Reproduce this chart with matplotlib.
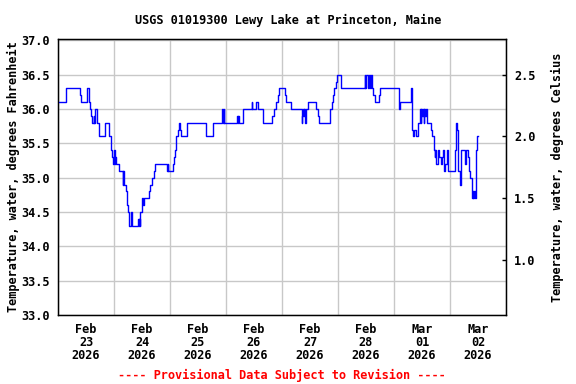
import numpy as np
import matplotlib
matplotlib.use("Agg")
import matplotlib.pyplot as plt

# hours since Feb 23 2026 00:00 where the reading changes, and the reading (deg F)
hours = [0, 3.5, 9.25, 9.75, 12.5, 13.25, 13.5, 14.25, 14.75, 15.25, 15.5, 15.75,
         16.0, 16.5, 17.5, 17.75, 20.25, 22.0, 22.5, 22.75, 23.25, 23.75, 24.0,
         24.25, 24.5, 24.75, 26.25, 27.75, 28.0, 28.25, 29.25, 29.5, 30.0, 30.5,
         31.25, 31.75, 34.25, 34.5, 34.75, 35.0, 35.25, 36.0, 36.5, 36.75, 39.0,
         39.5, 40.25, 41.0, 41.5, 46.75, 47.0, 47.25, 49.25, 49.75, 50.0, 50.5,
         50.75, 51.5, 51.75, 52.25, 52.5, 55.5, 63.25, 66.5, 70.5, 70.75, 71.0,
         71.25, 76.75, 77.0, 77.25, 77.5, 79.25, 83.0, 83.25, 85.0, 85.5, 88.0,
         91.75, 92.75, 93.25, 94.25, 94.75, 97.25, 97.75, 99.75, 104.5, 104.75,
         105.0, 105.25, 105.5, 105.75, 106.0, 106.25, 107.0, 110.75, 111.25,
         111.75, 116.75, 117.25, 117.75, 118.5, 119.0, 119.5, 121.5, 131.5,
         131.75, 132.0, 132.75, 133.25, 133.75, 134.25, 134.5, 135.0, 135.75,
         137.5, 138.0, 146.25, 146.75, 151.25, 151.75, 152.0, 152.75, 153.25,
         154.25, 155.25, 155.5, 155.75, 156.0, 156.5, 156.75, 157.0, 157.5,
         157.75, 158.25, 159.75, 160.5, 161.0, 161.25, 161.5, 161.75, 162.0,
         162.75, 163.0, 163.25, 164.25, 164.75, 165.0, 165.5, 165.75, 166.75,
         167.25, 170.25, 170.5, 171.0, 171.25, 172.5, 172.75, 174.5, 175.0,
         175.75, 176.0, 176.5, 177.25, 177.5, 177.75, 178.0, 178.25, 178.75,
         179.0, 179.25, 179.5, 179.75, 180.0]
temp_f = [36.1, 36.3, 36.2, 36.1, 36.3, 36.1, 36.0, 35.9, 35.8, 35.9, 35.8, 35.9,
          36.0, 35.8, 35.7, 35.6, 35.8, 35.6, 35.5, 35.4, 35.3, 35.2, 35.4,
          35.2, 35.3, 35.2, 35.1, 34.9, 35.1, 34.9, 34.8, 34.6, 34.5, 34.3,
          34.5, 34.3, 34.4, 34.3, 34.4, 34.3, 34.5, 34.7, 34.6, 34.7, 34.8,
          34.9, 35.0, 35.1, 35.2, 35.1, 35.2, 35.1, 35.2, 35.3, 35.4, 35.5,
          35.6, 35.7, 35.8, 35.7, 35.6, 35.8, 35.6, 35.8, 36.0, 35.8, 36.0,
          35.8, 35.9, 35.8, 35.9, 35.8, 36.0, 36.1, 36.0, 36.1, 36.0, 35.8,
          35.9, 36.0, 36.1, 36.2, 36.3, 36.2, 36.1, 36.0, 35.8, 35.9,
          36.0, 35.9, 36.0, 35.9, 35.8, 36.0, 36.1, 36.0, 35.9,
          35.8, 36.0, 36.1, 36.2, 36.3, 36.4, 36.5, 36.3, 36.5,
          36.3, 36.5, 36.3, 36.5, 36.3, 36.5, 36.3, 36.2, 36.1,
          36.2, 36.3, 36.0, 36.1, 36.3, 35.7, 35.6, 35.7, 35.6,
          35.8, 36.0, 35.8, 36.0, 35.9, 36.0, 35.8, 36.0, 35.9,
          36.0, 35.8, 35.7, 35.6, 35.5, 35.4, 35.3, 35.4, 35.2,
          35.3, 35.4, 35.3, 35.2, 35.3, 35.4, 35.1, 35.2, 35.4,
          35.1, 35.4, 35.8, 35.7, 35.1, 34.9, 35.4, 35.2, 35.4,
          35.3, 35.1, 35.0, 34.8, 34.7, 34.8, 34.7, 34.8, 34.7,
          35.2, 35.4, 35.5, 35.6, 35.6]

day_labels = ["Feb\n23\n2026", "Feb\n24\n2026", "Feb\n25\n2026", "Feb\n26\n2026",
              "Feb\n27\n2026", "Feb\n28\n2026", "Mar\n01\n2026", "Mar\n02\n2026"]
f_ticks = [33.0, 33.5, 34.0, 34.5, 35.0, 35.5, 36.0, 36.5, 37.0]
c_ticks = [1.0, 1.5, 2.0, 2.5]

font = "DejaVu Sans Mono"
fs = 8.6

fig = plt.figure(figsize=(5.76, 3.84), dpi=100)
ax = fig.add_axes([58 / 576, 1 - 315 / 384, 448 / 576, 276 / 384])

ax.step(hours, temp_f, where="post", color="#0000FF", linewidth=1.0, zorder=3)

ax.set_xlim(0, 24 * len(day_labels))
ax.set_ylim(33.0, 37.02)

# day gridlines at midnight, labels at noon
ax.set_xticks(np.arange(0, 24 * len(day_labels) + 1, 24))
ax.set_xticklabels([])
ax.set_xticks(np.arange(12, 24 * len(day_labels), 24), minor=True)
ax.set_xticklabels(day_labels, minor=True, fontfamily=font, fontweight="bold",
                   fontsize=fs, linespacing=1.0)
ax.tick_params(axis="x", which="both", length=0, pad=6)

ax.set_yticks(f_ticks)
ax.set_yticklabels(["%.1f" % v for v in f_ticks], fontfamily=font,
                   fontweight="bold", fontsize=fs)
ax.tick_params(axis="y", length=0, pad=6)

ax.grid(True, which="major", color="#C8C8C8", linewidth=1.0)
ax.set_axisbelow(True)
for sp in ax.spines.values():
    sp.set_linewidth(1.0)
    sp.set_color("black")

ax.set_ylabel("Temperature, water, degrees Fahrenheit", fontfamily=font,
              fontweight="bold", fontsize=fs, labelpad=1)

ax2 = ax.twinx()
lo, hi = ax.get_ylim()
ax2.set_ylim((lo - 32) * 5 / 9, (hi - 32) * 5 / 9)
ax2.set_yticks(c_ticks)
ax2.set_yticklabels(["%.1f" % v for v in c_ticks], fontfamily=font,
                    fontweight="bold", fontsize=fs)
ax2.tick_params(axis="y", direction="in", length=3, width=1, pad=6)
ax2.set_ylabel("Temperature, water, degrees Celsius", fontfamily=font,
               fontweight="bold", fontsize=fs, labelpad=11)

fig.text(0.5, 1 - 20 / 384, "USGS 01019300 Lewy Lake at Princeton, Maine",
         ha="center", va="center", fontfamily=font, fontweight="bold", fontsize=fs)
fig.text(282 / 576, 1 - 375 / 384, "---- Provisional Data Subject to Revision ----",
         ha="center", va="center", color="red", fontfamily=font,
         fontweight="bold", fontsize=fs)

fig.savefig("out.png", dpi=100)
